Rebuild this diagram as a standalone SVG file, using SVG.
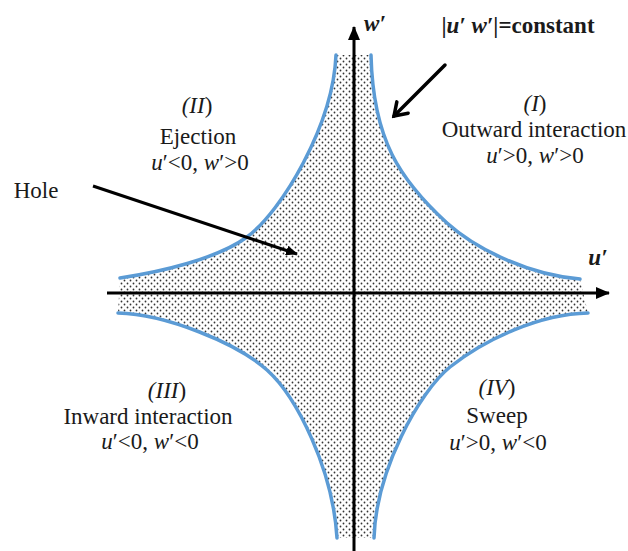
<svg xmlns="http://www.w3.org/2000/svg" width="628" height="551" viewBox="0 0 628 551">
<style>
.t{font-family:"Liberation Serif","Times New Roman",serif;font-size:23px;fill:#1a1a1a;text-anchor:middle}
.i{font-style:italic}
.b{font-weight:bold}
.curve{fill:none;stroke:#5b9bd5;stroke-width:3.5;stroke-linecap:round}
.axis{stroke:#000;stroke-width:3;fill:none}
</style>
<defs>
<pattern id="dots" patternUnits="userSpaceOnUse" width="6" height="6">
<circle cx="1.5" cy="1.5" r="0.9" fill="#333"/>
<circle cx="4.5" cy="4.5" r="0.9" fill="#333"/>
</pattern>
<marker id="tri" markerUnits="userSpaceOnUse" viewBox="0 0 14 12" markerWidth="14" markerHeight="12" refX="13" refY="6" orient="auto">
<path d="M0,0 L14,6 L0,12 Z" fill="#000"/>
</marker>
<marker id="tri2" markerUnits="userSpaceOnUse" viewBox="0 0 12 10" markerWidth="12" markerHeight="10" refX="11" refY="5" orient="auto">
<path d="M0,0 L12,5 L0,10 Z" fill="#000"/>
</marker>
<marker id="chev" markerUnits="userSpaceOnUse" viewBox="0 0 20 20" markerWidth="20" markerHeight="20" refX="17" refY="10" orient="auto">
<path d="M5,2 L17,10 L5,18" fill="none" stroke="#000" stroke-width="3.5" stroke-linecap="round" stroke-linejoin="miter"/>
</marker>
</defs>
<rect width="628" height="551" fill="#fff"/>
<g id="region">
<path d="M336,55 L371,55 C373,140 400,180 447,223 C477,250 530,275 580,279 L588,313 C540,314 485,339 450,367 C420,391 376,470 374,538 L337,538 C333,470 297,397 267,370 C237,343 165,314 118,313 L120,278 C160,272 217,259 247,237 C282,211 333,125 336,55 Z" fill="url(#dots)"/>
</g>
<g id="curves">
<path class="curve" d="M371,55 C373,140 400,180 447,223 C477,250 530,275 580,279"/>
<path class="curve" d="M588,313 C540,314 485,339 450,367 C420,391 376,470 374,538"/>
<path class="curve" d="M337,538 C333,470 297,397 267,370 C237,343 165,314 118,313"/>
<path class="curve" d="M120,278 C160,272 217,259 247,237 C282,211 333,125 336,55"/>
</g>
<g id="connectors">
<line class="axis" x1="107" y1="293" x2="609" y2="293" marker-end="url(#tri)"/>
<line class="axis" x1="354" y1="551" x2="354" y2="27" marker-end="url(#tri)"/>
<line x1="93" y1="186" x2="297" y2="254" stroke="#000" stroke-width="3" marker-end="url(#tri2)"/>
<line x1="445" y1="65" x2="394" y2="116" stroke="#000" stroke-width="3.5" stroke-linecap="round" marker-end="url(#chev)"/>
</g>
<g id="axis-labels">
<text class="t b i" x="375" y="31">w′</text>
<text class="t b i" x="598" y="265">u′</text>
<text class="t b" x="518" y="33">|<tspan class="i">u′ w′</tspan>|=constant</text>
<text class="t" x="36" y="198" font-size="27">Hole</text>
</g>
<g id="q1">
<text class="t" x="535" y="111"><tspan class="i">(I</tspan>)</text>
<text class="t" x="534" y="137">Outward interaction</text>
<text class="t" x="535" y="163"><tspan class="i">u</tspan>′&gt;0, <tspan class="i">w</tspan>′&gt;0</text>
</g>
<g id="q2">
<text class="t" x="197" y="113"><tspan class="i">(II</tspan>)</text>
<text class="t" x="198" y="144">Ejection</text>
<text class="t" x="200" y="170"><tspan class="i">u</tspan>′&lt;0, <tspan class="i">w</tspan>′&gt;0</text>
</g>
<g id="q3">
<text class="t" x="167" y="398"><tspan class="i">(III</tspan>)</text>
<text class="t" x="148" y="424">Inward interaction</text>
<text class="t" x="150" y="449"><tspan class="i">u</tspan>′&lt;0, <tspan class="i">w</tspan>′&lt;0</text>
</g>
<g id="q4">
<text class="t" x="497" y="395"><tspan class="i">(IV</tspan>)</text>
<text class="t" x="497" y="423">Sweep</text>
<text class="t" x="498" y="450"><tspan class="i">u</tspan>′&gt;0, <tspan class="i">w</tspan>′&lt;0</text>
</g>
</svg>
